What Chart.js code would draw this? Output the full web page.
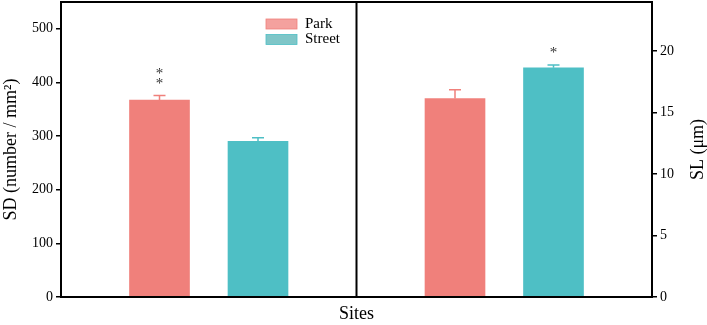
<!DOCTYPE html>
<html>
<head>
<meta charset="utf-8">
<script src="https://cdn.jsdelivr.net/npm/chart.js@4/dist/chart.umd.min.js"></script>
<style>
  html, body { margin: 0; padding: 0; background: #fff; }
  #wrap { width: 707px; height: 325px; position: relative; }
</style>
</head>
<body>
<div id="wrap"><canvas id="chart"></canvas></div>
<script>
"use strict";

/* ── Data ────────────────────────────────────────────────── */
const SITES = ['Park', 'Street'];
// x positions: left panel (SD) at 1,2 — right panel (SL) at 4,5
const SD_POS = [1, 2];
const SL_POS = [4, 5];
const SD_MEAN = [367, 290];
const SD_ERR  = [8.5, 7];
const SL_MEAN = [16.15, 18.65];
const SL_ERR  = [0.72, 0.22];
const SD_SIG  = ['**', ''];
const SL_SIG  = ['', '*'];
const SD_TICKS = [0, 100, 200, 300, 400, 500];
const SL_TICKS = [0, 5, 10, 15, 20];

const COLORS = {
  park:     '#F0807B',
  street:   '#4EBFC5',
  parkLeg:  '#F4A19E',
  streetLeg:'#7FC6C8',
  ink:      '#000000',
};
const FONT = '"Liberation Serif", "Times New Roman", serif';

function mkSet(i, pos, vals, axis) {
  return {
    label: SITES[i],
    data: [{ x: pos[i], y: vals[i] }],
    yAxisID: axis,
    backgroundColor: i === 0 ? COLORS.park : COLORS.street,
    borderWidth: 0,
    barThickness: 60,
    grouped: false,
  };
}

/* ── Plugin: frame, divider, error bars, stars, legend ───── */
const decor = {
  id: 'decor',
  afterDatasetsDraw(chart) {
    const { ctx, chartArea: a, scales } = chart;
    const x = scales.x;
    ctx.save();

    // error bars
    const drawErr = (pos, mean, err, y, i) => {
      const px = x.getPixelForValue(pos[i]);
      const top = y.getPixelForValue(mean[i] + err[i]);
      const base = y.getPixelForValue(mean[i]);
      ctx.strokeStyle = i === 0 ? COLORS.park : COLORS.street;
      ctx.lineWidth = 1.5;
      ctx.beginPath();
      ctx.moveTo(px, base); ctx.lineTo(px, top);
      ctx.moveTo(px - 6, top); ctx.lineTo(px + 6, top);
      ctx.stroke();
    };
    SITES.forEach((_, i) => {
      drawErr(SD_POS, SD_MEAN, SD_ERR, scales.ySD, i);
      drawErr(SL_POS, SL_MEAN, SL_ERR, scales.ySL, i);
    });

    // significance stars (stacked vertically)
    ctx.fillStyle = '#333';
    ctx.font = '15px ' + FONT;
    ctx.textAlign = 'center';
    ctx.textBaseline = 'middle';
    const drawSig = (pos, mean, err, sig, y, i) => {
      if (!sig[i]) return;
      const px = x.getPixelForValue(pos[i]);
      let py = y.getPixelForValue(mean[i] + err[i]) - 14;
      for (let k = 0; k < sig[i].length; k++) {
        ctx.fillText('*', px, py + 2);
        py -= 10;
      }
    };
    SITES.forEach((_, i) => {
      drawSig(SD_POS, SD_MEAN, SD_ERR, SD_SIG, scales.ySD, i);
      drawSig(SL_POS, SL_MEAN, SL_ERR, SL_SIG, scales.ySL, i);
    });

    // frame + panel divider
    ctx.strokeStyle = COLORS.ink;
    ctx.lineWidth = 2;
    ctx.strokeRect(a.left, a.top, a.right - a.left, a.bottom - a.top);
    const dx = x.getPixelForValue(3);
    ctx.beginPath();
    ctx.moveTo(dx, a.top); ctx.lineTo(dx, a.bottom);
    ctx.stroke();

    // legend
    const lx = 266, ly = 19;
    [COLORS.parkLeg, COLORS.streetLeg].forEach((c, i) => {
      const y0 = ly + i * 15.5;
      ctx.fillStyle = c;
      ctx.fillRect(lx, y0, 31, 10);
      ctx.strokeStyle = i === 0 ? COLORS.park : COLORS.street;
      ctx.lineWidth = 0.8;
      ctx.strokeRect(lx, y0, 31, 10);
      ctx.fillStyle = COLORS.ink;
      ctx.font = '15px ' + FONT;
      ctx.textAlign = 'left';
      ctx.textBaseline = 'middle';
      ctx.fillText(SITES[i], lx + 39, y0 + 5);
    });

    // right axis title, reading bottom-to-top like the left one
    ctx.translate(698, (a.top + a.bottom) / 2);
    ctx.rotate(-Math.PI / 2);
    ctx.font = '18px ' + FONT;
    ctx.textAlign = 'center';
    ctx.textBaseline = 'middle';
    ctx.fillText('SL (μm)', 0, 0);
    ctx.restore();
  },
};

const tickFilter = list => scale => {
  scale.ticks = list.map(v => ({ value: v }));
};
const noPad = w => s => { s.width = w; s.paddingTop = 0; s.paddingBottom = 0; };

new Chart(document.getElementById('chart'), {
  type: 'bar',
  data: {
    datasets: [
      mkSet(0, SD_POS, SD_MEAN, 'ySD'),
      mkSet(1, SD_POS, SD_MEAN, 'ySD'),
      mkSet(0, SL_POS, SL_MEAN, 'ySL'),
      mkSet(1, SL_POS, SL_MEAN, 'ySL'),
    ],
  },
  options: {
    responsive: true,
    maintainAspectRatio: false,
    animation: false,
    layout: { padding: { top: 2, left: 0, right: 0, bottom: 0 } },
    plugins: { legend: { display: false }, tooltip: { enabled: false } },
    scales: {
      x: {
        type: 'linear',
        min: 0, max: 6,
        offset: false,
        grid: { display: false, offset: false },
        border: { display: false },
        ticks: { display: false },
        title: {
          display: true, text: 'Sites', color: COLORS.ink,
          font: { family: FONT, size: 18 }, padding: { top: 4, bottom: 0 },
        },
        afterFit: s => { s.height = 28; s.paddingLeft = 0; s.paddingRight = 0; },
      },
      ySD: {
        type: 'linear', position: 'left',
        min: 0, max: 550,
        afterBuildTicks: tickFilter(SD_TICKS),
        grid: { drawOnChartArea: false, tickLength: 5, color: COLORS.ink, lineWidth: 1.5 },
        border: { display: false },
        ticks: { color: COLORS.ink, font: { family: FONT, size: 14 }, padding: 3 },
        title: {
          display: true, text: 'SD (number / mm²)', color: COLORS.ink,
          font: { family: FONT, size: 18 }, padding: { top: 0, bottom: 0 },
        },
        afterFit: noPad(61),
      },
      ySL: {
        type: 'linear', position: 'right',
        min: 0, max: 24,
        afterBuildTicks: tickFilter(SL_TICKS),
        grid: { drawOnChartArea: false, tickLength: 5, color: COLORS.ink, lineWidth: 1.5 },
        border: { display: false },
        ticks: { color: COLORS.ink, font: { family: FONT, size: 14 }, padding: 3 },
        afterFit: noPad(55),
      },
    },
  },
  plugins: [decor],
});
</script>
</body>
</html>
